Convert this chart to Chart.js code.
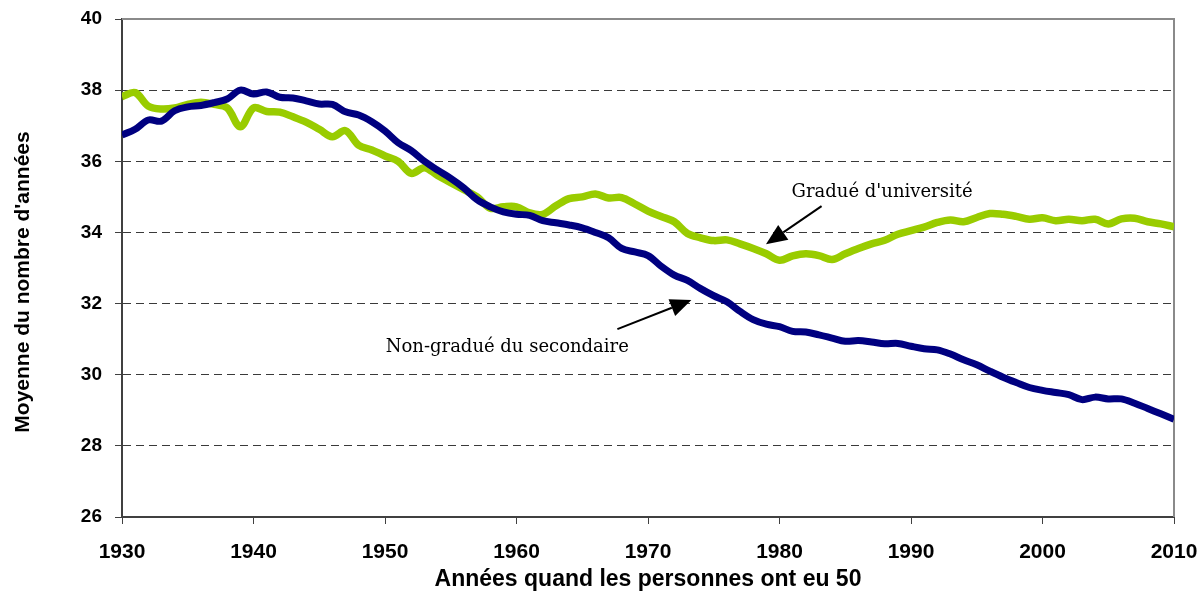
<!DOCTYPE html>
<html>
<head>
<meta charset="utf-8">
<title>Moyenne du nombre d'années</title>
<script src="https://cdn.jsdelivr.net/npm/chart.js@4/dist/chart.umd.min.js"></script>
<style>
    html, body { margin: 0; padding: 0; background: #fff; }
    #wrap { width: 1202px; height: 593px; }
</style>
</head>
<body>
<div id="wrap"><canvas id="chart" width="1202" height="593"></canvas></div>
<script>
var years = [
    1930, 1931, 1932, 1933, 1934, 1935, 1936, 1937, 1938, 1939,
    1940, 1941, 1942, 1943, 1944, 1945, 1946, 1947, 1948, 1949,
    1950, 1951, 1952, 1953, 1954, 1955, 1956, 1957, 1958, 1959,
    1960, 1961, 1962, 1963, 1964, 1965, 1966, 1967, 1968, 1969,
    1970, 1971, 1972, 1973, 1974, 1975, 1976, 1977, 1978, 1979,
    1980, 1981, 1982, 1983, 1984, 1985, 1986, 1987, 1988, 1989,
    1990, 1991, 1992, 1993, 1994, 1995, 1996, 1997, 1998, 1999,
    2000, 2001, 2002, 2003, 2004, 2005, 2006, 2007, 2008, 2009,
    2010
];

// Gradué d'université
var university = [
    37.82, 37.93, 37.55, 37.47, 37.50, 37.60, 37.66, 37.60, 37.50, 36.97,
    37.50, 37.40, 37.38, 37.25, 37.10, 36.90, 36.69, 36.86, 36.45, 36.32,
    36.15, 36.00, 35.66, 35.82, 35.60, 35.40, 35.20, 35.00, 34.68, 34.72,
    34.72, 34.55, 34.51, 34.75, 34.95, 35.00, 35.08, 34.97, 34.98, 34.80,
    34.60, 34.45, 34.30, 33.97, 33.85, 33.77, 33.79, 33.68, 33.55, 33.40,
    33.22, 33.34, 33.40, 33.35, 33.24, 33.40, 33.55, 33.68, 33.78, 33.95,
    34.05, 34.15, 34.28, 34.35, 34.30, 34.42, 34.53, 34.51, 34.45, 34.37,
    34.41, 34.33, 34.37, 34.33, 34.37, 34.24, 34.38, 34.40, 34.30, 34.24,
    34.16
];

// Non-gradué du secondaire
var noDiploma = [
    36.74, 36.90, 37.16, 37.13, 37.42, 37.53, 37.57, 37.65, 37.75, 38.00,
    37.89, 37.95, 37.80, 37.78, 37.70, 37.61, 37.60, 37.39, 37.30, 37.11,
    36.85, 36.52, 36.30, 36.00, 35.75, 35.52, 35.25, 34.92, 34.72, 34.58,
    34.51, 34.48, 34.33, 34.27, 34.21, 34.13, 34.00, 33.85, 33.55, 33.45,
    33.35, 33.05, 32.80, 32.65, 32.42, 32.22, 32.05, 31.78, 31.55, 31.42,
    31.35, 31.22, 31.20, 31.12, 31.03, 30.94, 30.96, 30.92, 30.87, 30.88,
    30.80, 30.73, 30.70, 30.58, 30.42, 30.28, 30.10, 29.93, 29.78, 29.64,
    29.56, 29.50, 29.44, 29.30, 29.37, 29.32, 29.32, 29.20, 29.05, 28.90,
    28.75
];

// Text labels with arrows, in data units (year, value)
var noteLabels = ["Gradué d'université", "Non-gradué du secondaire"];
var noteText = [[1987.8, 35.0], [1959.3, 30.65]];
var noteArrowFrom = [[1983.2, 34.74], [1967.67, 31.28]];
var noteArrowTo = [[1978.97, 33.67], [1973.3, 32.1]];

var yTitle = "Moyenne du nombre d'années";
var xTitle = 'Années quand les personnes ont eu 50';

(function () {
    "use strict";

    var sans = '"Liberation Sans", Arial, sans-serif';

    function points(values) {
        return values.map(function (v, i) { return { x: years[i], y: v }; });
    }

    function arrow(ctx, x1, y1, x2, y2) {
        var ang = Math.atan2(y2 - y1, x2 - x1);
        var len = 21, half = 9;
        var bx = x2 - Math.cos(ang) * len;
        var by = y2 - Math.sin(ang) * len;
        ctx.beginPath();
        ctx.moveTo(x1, y1);
        ctx.lineTo(bx, by);
        ctx.lineWidth = 2;
        ctx.strokeStyle = '#000';
        ctx.stroke();
        ctx.beginPath();
        ctx.moveTo(x2, y2);
        ctx.lineTo(bx - Math.sin(ang) * half, by + Math.cos(ang) * half);
        ctx.lineTo(bx + Math.sin(ang) * half, by - Math.cos(ang) * half);
        ctx.closePath();
        ctx.fillStyle = '#000';
        ctx.fill();
    }

    var framePlugin = {
        id: 'frameAndNotes',
        beforeDatasetsDraw: function (chart) {
            var ctx = chart.ctx, a = chart.chartArea;
            ctx.save();
            ctx.strokeStyle = '#8a8a8a';
            ctx.lineWidth = 2;
            ctx.beginPath();
            ctx.moveTo(a.left, a.top);
            ctx.lineTo(a.right, a.top);
            ctx.lineTo(a.right, a.bottom);
            ctx.stroke();
            ctx.restore();
        },
        afterDatasetsDraw: function (chart) {
            var ctx = chart.ctx, a = chart.chartArea;
            var xs = chart.scales.x, ys = chart.scales.y;
            ctx.save();
            ctx.font = '18px "DejaVu Serif"';
            ctx.fillStyle = '#000';
            ctx.textAlign = 'center';
            ctx.textBaseline = 'alphabetic';
            noteLabels.forEach(function (label, i) {
                ctx.fillText(label, xs.getPixelForValue(noteText[i][0]), ys.getPixelForValue(noteText[i][1]));
                arrow(ctx,
                    xs.getPixelForValue(noteArrowFrom[i][0]), ys.getPixelForValue(noteArrowFrom[i][1]),
                    xs.getPixelForValue(noteArrowTo[i][0]), ys.getPixelForValue(noteArrowTo[i][1]));
            });

            // y title sits a bit below the plot centre in the original
            ctx.font = 'bold 21px ' + sans;
            ctx.textBaseline = 'middle';
            ctx.translate(23, (a.top + a.bottom) / 2 + 14);
            ctx.rotate(-Math.PI / 2);
            ctx.fillText(yTitle, 0, 0);
            ctx.restore();
        }
    };

    new Chart(document.getElementById('chart'), {
        type: 'line',
        data: {
            datasets: [
                { label: 'Non-gradué du secondaire', data: points(noDiploma), borderColor: '#000080', borderWidth: 7, pointRadius: 0, tension: 0.35, fill: false },
                { label: "Gradué d'université", data: points(university), borderColor: '#99cc00', borderWidth: 7.5, pointRadius: 0, tension: 0.35, fill: false }
            ]
        },
        options: {
            responsive: false,
            animation: false,
            devicePixelRatio: 1,
            layout: { padding: { top: 19, right: 28, left: 0, bottom: 0 } },
            plugins: {
                legend: { display: false },
                tooltip: { enabled: false }
            },
            scales: {
                x: {
                    type: 'linear',
                    min: 1930,
                    max: 2010,
                    afterFit: function (s) {
                        s.height = 76;
                        s.paddingLeft = 0;
                        s.paddingRight = 0;
                    },
                    ticks: {
                        stepSize: 10,
                        color: '#000',
                        font: { family: sans, size: 21, weight: 'bold' },
                        padding: 16,
                        maxRotation: 0,
                        callback: function (v) { return String(v); }
                    },
                    grid: { drawOnChartArea: false, drawTicks: true, tickLength: 7, tickColor: '#404040', tickWidth: 1 },
                    border: { display: true, color: '#404040', width: 2 },
                    title: {
                        display: true,
                        text: xTitle,
                        color: '#000',
                        font: { family: sans, size: 23, weight: 'bold' },
                        padding: { top: 0, bottom: 0 }
                    }
                },
                y: {
                    min: 26,
                    max: 40,
                    afterFit: function (s) {
                        s.width = 122;
                        s.paddingTop = 0;
                        s.paddingBottom = 0;
                    },
                    ticks: {
                        stepSize: 2,
                        color: '#000',
                        font: { family: sans, size: 19, weight: 'bold' },
                        padding: 13
                    },
                    grid: {
                        color: function (c) {
                            var v = c.tick && c.tick.value;
                            return (v === 40 || v === 26) ? 'rgba(0,0,0,0)' : '#3a3a3a';
                        },
                        lineWidth: 1,
                        tickLength: 7,
                        tickColor: '#404040',
                        tickWidth: 1
                    },
                    border: { display: true, color: '#404040', width: 2, dash: [8, 5] },
                    title: { display: false }
                }
            }
        },
        plugins: [framePlugin]
    });
})();
</script>
</body>
</html>
